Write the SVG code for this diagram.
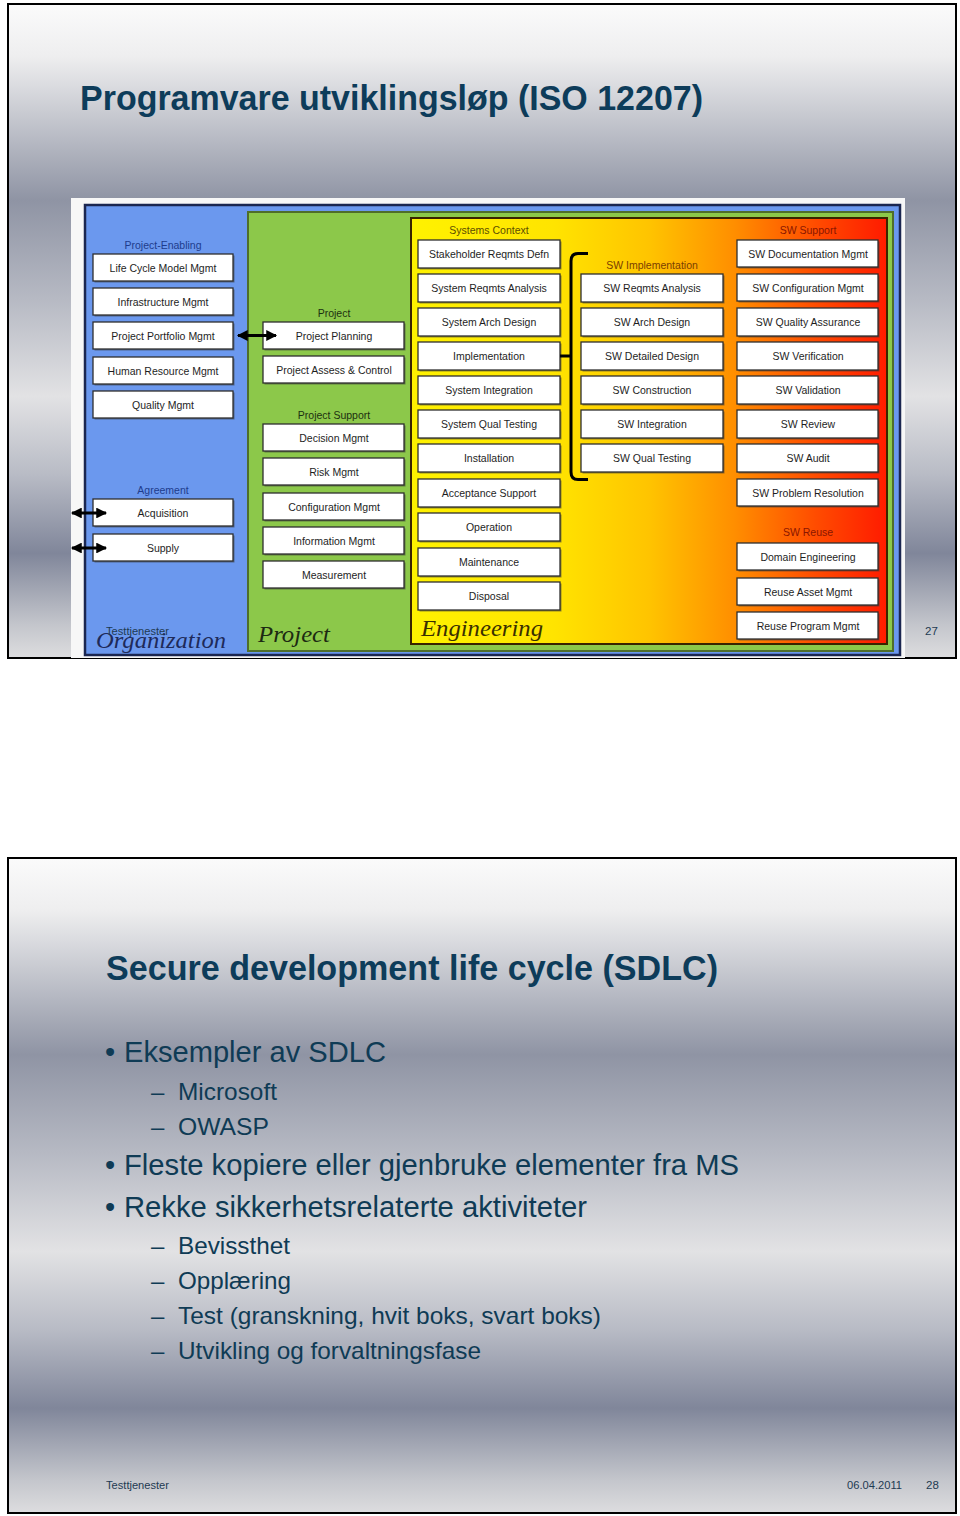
<svg xmlns="http://www.w3.org/2000/svg" width="960" height="1516" viewBox="0 0 960 1516">
<defs>
<linearGradient id="slideBg" x1="0" y1="0" x2="0" y2="1">
<stop offset="0" stop-color="#fbfbfb"/>
<stop offset="0.08" stop-color="#eeeeef"/>
<stop offset="0.3" stop-color="#8f94a4"/>
<stop offset="0.45" stop-color="#b6b9c3"/>
<stop offset="0.6" stop-color="#e2e2e4"/>
<stop offset="0.72" stop-color="#b8bbc5"/>
<stop offset="0.84" stop-color="#80869a"/>
<stop offset="0.95" stop-color="#c4c6cc"/>
<stop offset="1" stop-color="#dddddf"/>
</linearGradient>
<linearGradient id="engGrad" x1="0" y1="0" x2="1" y2="0">
<stop offset="0" stop-color="#fff200"/>
<stop offset="0.3" stop-color="#ffe400"/>
<stop offset="0.5" stop-color="#ffc400"/>
<stop offset="0.68" stop-color="#ff8e00"/>
<stop offset="0.85" stop-color="#ff4c00"/>
<stop offset="1" stop-color="#ff1a00"/>
</linearGradient>
<marker id="ah" viewBox="0 0 10 10" refX="9" refY="5" markerWidth="4" markerHeight="3.6" orient="auto-start-reverse" markerUnits="strokeWidth">
<path d="M0,0 L10,5 L0,10 Z" fill="#000"/>
</marker>
<style>
.frame{fill:url(#slideBg);stroke:#000;stroke-width:2}
.title{font-family:"Liberation Sans",Arial,sans-serif;font-weight:bold;font-size:35px;fill:#0d3c5a}
.body{font-family:"Liberation Sans",Arial,sans-serif;fill:#0f3b55}
.b1{font-size:29px}
.b2{font-size:24px}
.foot{font-family:"Liberation Sans",Arial,sans-serif;font-size:11.5px;fill:#1e3a52}
.bx{fill:#fff;stroke:#2e2e2e;stroke-width:1.3}
.sh{fill:#3a3a3a;opacity:0.55}
.bt{font-family:"Liberation Sans",Arial,sans-serif;font-size:10.5px;fill:#1e1e1e;text-anchor:middle}
.lbl{font-family:"Liberation Sans",Arial,sans-serif;font-size:10.5px;text-anchor:middle}
.big{font-family:"Liberation Serif","Times New Roman",serif;font-style:italic;font-size:24px}
.conn{fill:none;stroke:#000;stroke-width:3}
</style>
</defs>

<!-- Slide 1 -->
<rect class="frame" x="8" y="4" width="948" height="654"/>
<text class="title" x="80" y="110" textLength="623" lengthAdjust="spacingAndGlyphs">Programvare utviklingsløp (ISO 12207)</text>

<g id="diagram">
<rect x="71" y="198" width="834" height="460" fill="#f7f7f7"/>
<g id="panel-organization">
<rect x="85" y="205" width="815" height="450" fill="#6b98ee" stroke="#1b2650" stroke-width="2.5"/>
</g>
<g id="panel-project">
<rect x="248" y="212" width="645" height="439" fill="#8cc84a" stroke="#4f6e2a" stroke-width="2"/>
</g>
<g id="panel-engineering">
<rect x="411" y="218" width="476" height="426" fill="url(#engGrad)" stroke="#3a2400" stroke-width="2"/>
</g>

<text class="big" x="96" y="648" fill="#1e2a5a" textLength="130" lengthAdjust="spacingAndGlyphs">Organization</text>
<text class="big" x="258" y="642" fill="#1c2a12" textLength="72" lengthAdjust="spacingAndGlyphs">Project</text>
<text class="big" x="421" y="636" fill="#3a3000" textLength="122" lengthAdjust="spacingAndGlyphs">Engineering</text>

<text class="lbl" x="163" y="249" fill="#1e3c8c">Project-Enabling</text>
<text class="lbl" x="163" y="494" fill="#1e3c8c">Agreement</text>
<text class="lbl" x="334" y="317" fill="#1c3010">Project</text>
<text class="lbl" x="334" y="419" fill="#1c3010">Project Support</text>
<text class="lbl" x="489" y="234" fill="#5c4e00">Systems Context</text>
<text class="lbl" x="652" y="269" fill="#7a4000">SW Implementation</text>
<text class="lbl" x="808" y="234" fill="#8a1600">SW Support</text>
<text class="lbl" x="808" y="536" fill="#8a1600">SW Reuse</text>

<!-- Organization column -->
<g id="n-lcmm"><rect class="sh" x="94.5" y="255.5" width="140" height="27"/><rect class="bx" x="93" y="254" width="140" height="27"/><text class="bt" x="163" y="271.5">Life Cycle Model Mgmt</text></g>
<g id="n-infra"><rect class="sh" x="94.5" y="289.5" width="140" height="27"/><rect class="bx" x="93" y="288" width="140" height="27"/><text class="bt" x="163" y="305.5">Infrastructure Mgmt</text></g>
<g id="n-ppm"><rect class="sh" x="94.5" y="323.5" width="140" height="27"/><rect class="bx" x="93" y="322" width="140" height="27"/><text class="bt" x="163" y="339.5">Project Portfolio Mgmt</text></g>
<g id="n-hrm"><rect class="sh" x="94.5" y="358.5" width="140" height="27"/><rect class="bx" x="93" y="357" width="140" height="27"/><text class="bt" x="163" y="374.5">Human Resource Mgmt</text></g>
<g id="n-qm"><rect class="sh" x="94.5" y="392.5" width="140" height="27"/><rect class="bx" x="93" y="391" width="140" height="27"/><text class="bt" x="163" y="408.5">Quality Mgmt</text></g>
<g id="n-acq"><rect class="sh" x="94.5" y="500.5" width="140" height="27"/><rect class="bx" x="93" y="499" width="140" height="27"/><text class="bt" x="163" y="516.5">Acquisition</text></g>
<g id="n-sup"><rect class="sh" x="94.5" y="535.5" width="140" height="27"/><rect class="bx" x="93" y="534" width="140" height="27"/><text class="bt" x="163" y="551.5">Supply</text></g>

<!-- Project column -->
<g id="n-pp"><rect class="sh" x="264.5" y="323.5" width="141" height="27"/><rect class="bx" x="263" y="322" width="141" height="27"/><text class="bt" x="334" y="339.5">Project Planning</text></g>
<g id="n-pac"><rect class="sh" x="264.5" y="357.5" width="141" height="27"/><rect class="bx" x="263" y="356" width="141" height="27"/><text class="bt" x="334" y="373.5">Project Assess &amp; Control</text></g>
<g id="n-dm"><rect class="sh" x="264.5" y="425.5" width="141" height="27"/><rect class="bx" x="263" y="424" width="141" height="27"/><text class="bt" x="334" y="441.5">Decision Mgmt</text></g>
<g id="n-rm"><rect class="sh" x="264.5" y="459.5" width="141" height="27"/><rect class="bx" x="263" y="458" width="141" height="27"/><text class="bt" x="334" y="475.5">Risk Mgmt</text></g>
<g id="n-cm"><rect class="sh" x="264.5" y="494.5" width="141" height="27"/><rect class="bx" x="263" y="493" width="141" height="27"/><text class="bt" x="334" y="510.5">Configuration Mgmt</text></g>
<g id="n-im"><rect class="sh" x="264.5" y="528.5" width="141" height="27"/><rect class="bx" x="263" y="527" width="141" height="27"/><text class="bt" x="334" y="544.5">Information Mgmt</text></g>
<g id="n-meas"><rect class="sh" x="264.5" y="562.5" width="141" height="27"/><rect class="bx" x="263" y="561" width="141" height="27"/><text class="bt" x="334" y="578.5">Measurement</text></g>

<!-- Engineering: Systems Context -->
<g id="n-srd"><rect class="sh" x="419.5" y="241.5" width="142" height="28"/><rect class="bx" x="418" y="240" width="142" height="28"/><text class="bt" x="489" y="258">Stakeholder Reqmts Defn</text></g>
<g id="n-sra"><rect class="sh" x="419.5" y="275.5" width="142" height="28"/><rect class="bx" x="418" y="274" width="142" height="28"/><text class="bt" x="489" y="292">System Reqmts Analysis</text></g>
<g id="n-sad"><rect class="sh" x="419.5" y="309.5" width="142" height="28"/><rect class="bx" x="418" y="308" width="142" height="28"/><text class="bt" x="489" y="326">System Arch Design</text></g>
<g id="n-impl"><rect class="sh" x="419.5" y="343.5" width="142" height="28"/><rect class="bx" x="418" y="342" width="142" height="28"/><text class="bt" x="489" y="360">Implementation</text></g>
<g id="n-si"><rect class="sh" x="419.5" y="377.5" width="142" height="28"/><rect class="bx" x="418" y="376" width="142" height="28"/><text class="bt" x="489" y="394">System Integration</text></g>
<g id="n-sqt"><rect class="sh" x="419.5" y="411.5" width="142" height="28"/><rect class="bx" x="418" y="410" width="142" height="28"/><text class="bt" x="489" y="428">System Qual Testing</text></g>
<g id="n-inst"><rect class="sh" x="419.5" y="445.5" width="142" height="28"/><rect class="bx" x="418" y="444" width="142" height="28"/><text class="bt" x="489" y="462">Installation</text></g>
<g id="n-acc"><rect class="sh" x="419.5" y="480.5" width="142" height="28"/><rect class="bx" x="418" y="479" width="142" height="28"/><text class="bt" x="489" y="497">Acceptance Support</text></g>
<g id="n-op"><rect class="sh" x="419.5" y="514.5" width="142" height="28"/><rect class="bx" x="418" y="513" width="142" height="28"/><text class="bt" x="489" y="531">Operation</text></g>
<g id="n-mnt"><rect class="sh" x="419.5" y="549.5" width="142" height="28"/><rect class="bx" x="418" y="548" width="142" height="28"/><text class="bt" x="489" y="566">Maintenance</text></g>
<g id="n-disp"><rect class="sh" x="419.5" y="583.5" width="142" height="28"/><rect class="bx" x="418" y="582" width="142" height="28"/><text class="bt" x="489" y="600">Disposal</text></g>

<!-- Engineering: SW Implementation -->
<g id="n-swra"><rect class="sh" x="582.5" y="275.5" width="142" height="28"/><rect class="bx" x="581" y="274" width="142" height="28"/><text class="bt" x="652" y="292">SW Reqmts Analysis</text></g>
<g id="n-swad"><rect class="sh" x="582.5" y="309.5" width="142" height="28"/><rect class="bx" x="581" y="308" width="142" height="28"/><text class="bt" x="652" y="326">SW Arch Design</text></g>
<g id="n-swdd"><rect class="sh" x="582.5" y="343.5" width="142" height="28"/><rect class="bx" x="581" y="342" width="142" height="28"/><text class="bt" x="652" y="360">SW Detailed Design</text></g>
<g id="n-swc"><rect class="sh" x="582.5" y="377.5" width="142" height="28"/><rect class="bx" x="581" y="376" width="142" height="28"/><text class="bt" x="652" y="394">SW Construction</text></g>
<g id="n-swi"><rect class="sh" x="582.5" y="411.5" width="142" height="28"/><rect class="bx" x="581" y="410" width="142" height="28"/><text class="bt" x="652" y="428">SW Integration</text></g>
<g id="n-swqt"><rect class="sh" x="582.5" y="445.5" width="142" height="28"/><rect class="bx" x="581" y="444" width="142" height="28"/><text class="bt" x="652" y="462">SW Qual Testing</text></g>

<!-- Engineering: SW Support -->
<g id="n-swdm"><rect class="sh" x="738.5" y="241.5" width="141" height="27"/><rect class="bx" x="737" y="240" width="141" height="27"/><text class="bt" x="808" y="257.5">SW Documentation Mgmt</text></g>
<g id="n-swcm"><rect class="sh" x="738.5" y="275.5" width="141" height="27"/><rect class="bx" x="737" y="274" width="141" height="27"/><text class="bt" x="808" y="291.5">SW Configuration Mgmt</text></g>
<g id="n-swqa"><rect class="sh" x="738.5" y="309.5" width="141" height="28"/><rect class="bx" x="737" y="308" width="141" height="28"/><text class="bt" x="808" y="326">SW Quality Assurance</text></g>
<g id="n-swver"><rect class="sh" x="738.5" y="343.5" width="141" height="28"/><rect class="bx" x="737" y="342" width="141" height="28"/><text class="bt" x="808" y="360">SW Verification</text></g>
<g id="n-swval"><rect class="sh" x="738.5" y="377.5" width="141" height="28"/><rect class="bx" x="737" y="376" width="141" height="28"/><text class="bt" x="808" y="394">SW Validation</text></g>
<g id="n-swrev"><rect class="sh" x="738.5" y="411.5" width="141" height="28"/><rect class="bx" x="737" y="410" width="141" height="28"/><text class="bt" x="808" y="428">SW Review</text></g>
<g id="n-swaud"><rect class="sh" x="738.5" y="445.5" width="141" height="28"/><rect class="bx" x="737" y="444" width="141" height="28"/><text class="bt" x="808" y="462">SW Audit</text></g>
<g id="n-swpr"><rect class="sh" x="738.5" y="480.5" width="141" height="27"/><rect class="bx" x="737" y="479" width="141" height="27"/><text class="bt" x="808" y="496.5">SW Problem Resolution</text></g>
<g id="n-de"><rect class="sh" x="738.5" y="544.5" width="141" height="27"/><rect class="bx" x="737" y="543" width="141" height="27"/><text class="bt" x="808" y="560.5">Domain Engineering</text></g>
<g id="n-ram"><rect class="sh" x="738.5" y="579.5" width="141" height="27"/><rect class="bx" x="737" y="578" width="141" height="27"/><text class="bt" x="808" y="595.5">Reuse Asset Mgmt</text></g>
<g id="n-rpm"><rect class="sh" x="738.5" y="613.5" width="141" height="27"/><rect class="bx" x="737" y="612" width="141" height="27"/><text class="bt" x="808" y="629.5">Reuse Program Mgmt</text></g>

<g id="connectors">
<line class="conn" x1="238" y1="335.5" x2="276" y2="335.5" marker-start="url(#ah)" marker-end="url(#ah)"/>
<line class="conn" x1="72" y1="513" x2="106" y2="513" marker-start="url(#ah)" marker-end="url(#ah)"/>
<line class="conn" x1="72" y1="548" x2="106" y2="548" marker-start="url(#ah)" marker-end="url(#ah)"/>
<path class="conn" d="M588,253.5 L578,253.5 Q571,253.5 571,261 L571,472 Q571,479.5 578,479.5 L588,479.5"/>
<line class="conn" x1="560" y1="356" x2="571" y2="356"/>
</g>
</g>

<text class="foot" x="106" y="635" textLength="63" lengthAdjust="spacingAndGlyphs">Testtjenester</text>
<text class="foot" x="925" y="635">27</text>

<!-- Slide 2 -->
<rect class="frame" x="8" y="858" width="948" height="655"/>
<text class="title" x="106" y="980" textLength="612" lengthAdjust="spacingAndGlyphs">Secure development life cycle (SDLC)</text>

<g id="bullets">
<text class="body b1" x="105" y="1062">•</text>
<text class="body b1" x="124" y="1062" textLength="262" lengthAdjust="spacingAndGlyphs">Eksempler av SDLC</text>
<text class="body b2" x="151" y="1100">–</text>
<text class="body b2" x="178" y="1100" textLength="99" lengthAdjust="spacingAndGlyphs">Microsoft</text>
<text class="body b2" x="151" y="1135">–</text>
<text class="body b2" x="178" y="1135" textLength="91" lengthAdjust="spacingAndGlyphs">OWASP</text>
<text class="body b1" x="105" y="1175">•</text>
<text class="body b1" x="124" y="1175" textLength="615" lengthAdjust="spacingAndGlyphs">Fleste kopiere eller gjenbruke elementer fra MS</text>
<text class="body b1" x="105" y="1217">•</text>
<text class="body b1" x="124" y="1217" textLength="463" lengthAdjust="spacingAndGlyphs">Rekke sikkerhetsrelaterte aktiviteter</text>
<text class="body b2" x="151" y="1254">–</text>
<text class="body b2" x="178" y="1254" textLength="112" lengthAdjust="spacingAndGlyphs">Bevissthet</text>
<text class="body b2" x="151" y="1289">–</text>
<text class="body b2" x="178" y="1289" textLength="113" lengthAdjust="spacingAndGlyphs">Opplæring</text>
<text class="body b2" x="151" y="1324">–</text>
<text class="body b2" x="178" y="1324" textLength="423" lengthAdjust="spacingAndGlyphs">Test (granskning, hvit boks, svart boks)</text>
<text class="body b2" x="151" y="1359">–</text>
<text class="body b2" x="178" y="1359" textLength="303" lengthAdjust="spacingAndGlyphs">Utvikling og forvaltningsfase</text>
</g>

<text class="foot" x="106" y="1489" textLength="63" lengthAdjust="spacingAndGlyphs">Testtjenester</text>
<text class="foot" x="847" y="1489" textLength="55" lengthAdjust="spacingAndGlyphs">06.04.2011</text>
<text class="foot" x="926" y="1489">28</text>
</svg>
